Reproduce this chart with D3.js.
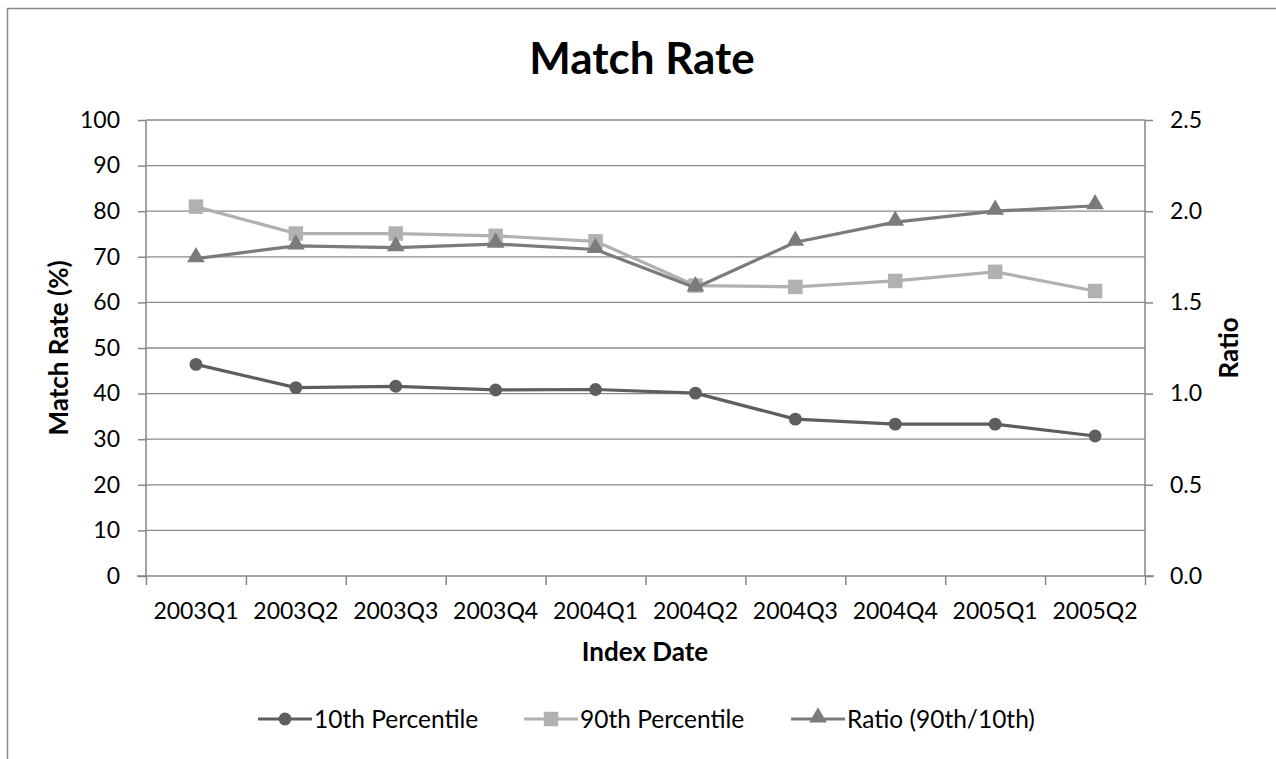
<!DOCTYPE html>
<html>
<head>
<meta charset="utf-8">
<script src="https://cdn.jsdelivr.net/npm/d3@7"></script>
<style>
  html, body { margin: 0; padding: 0; background: #fff; }
  svg { display: block; font-family: Lato, "Open Sans", sans-serif; }
</style>
</head>
<body>
<svg id="chart" width="1276" height="759"></svg>
<script>
// Quarterly index dates
const categories = ["2003Q1","2003Q2","2003Q3","2003Q4","2004Q1","2004Q2","2004Q3","2004Q4","2005Q1","2005Q2"];
// Match rate (%) at the 10th and 90th percentiles
const p10 = [46.4, 41.3, 41.6, 40.8, 40.9, 40.1, 34.4, 33.3, 33.3, 30.7];
const p90 = [81.0, 75.1, 75.1, 74.6, 73.4, 63.7, 63.4, 64.7, 66.7, 62.5];
// Ratio of 90th to 10th percentile (right axis)
const ratio = [1.74, 1.81, 1.80, 1.82, 1.79, 1.58, 1.83, 1.94, 2.00, 2.03];
// Axis tick values
const leftTicks = [0, 10, 20, 30, 40, 50, 60, 70, 80, 90, 100];
const rightTicks = [0, 0.5, 1.0, 1.5, 2.0, 2.5];

const svg = d3.select("#chart");
const plot = { left: 146, right: 1145, top: 120, bottom: 576 };

const axisColor = "#868686";
const gridColor = "#8a8a8a";
const col10 = "#5e5e5e";
const col90 = "#b1b1b1";
const colRatio = "#7b7b7b";

// Outer chart frame (extends past the window on the right and bottom)
svg.append("rect")
  .attr("x", 7.5).attr("y", 8.5).attr("width", 1400).attr("height", 900)
  .attr("fill", "#fff").attr("stroke", "#878787").attr("stroke-width", 1.5);

const x = d3.scaleBand().domain(categories).range([plot.left, plot.right]);
const xEdge = d3.scaleLinear().domain([0, categories.length]).range([plot.left, plot.right]);
const yL = d3.scaleLinear().domain([0, 100]).range([plot.bottom, plot.top]);
const yR = d3.scaleLinear().domain([0, 2.5]).range([plot.bottom, plot.top]);
const cx = d => x(d) + x.bandwidth() / 2;

// Horizontal gridlines
svg.append("g").selectAll("line").data(leftTicks.filter(t => t > 0)).join("line")
  .attr("x1", plot.left).attr("x2", plot.right)
  .attr("y1", d => yL(d)).attr("y2", d => yL(d))
  .attr("stroke", gridColor).attr("stroke-width", 1.3);

// Left axis
const gL = svg.append("g").attr("transform", `translate(${plot.left},0)`)
  .call(d3.axisLeft(yL).tickValues(leftTicks).tickSize(8).tickPadding(18).tickFormat(d3.format("d")));
// Right axis
const gR = svg.append("g").attr("transform", `translate(${plot.right},0)`)
  .call(d3.axisRight(yR).tickValues(rightTicks).tickSize(8).tickPadding(17).tickFormat(d3.format(".1f")));
// Bottom axis: tick marks at category boundaries
const gB = svg.append("g").attr("transform", `translate(0,${plot.bottom})`)
  .call(d3.axisBottom(xEdge).tickValues(d3.range(categories.length + 1)).tickSize(9).tickFormat(""));
// Bottom axis: category labels
const gBL = svg.append("g").attr("transform", `translate(0,${plot.bottom})`)
  .call(d3.axisBottom(x).tickSize(0).tickPadding(27));
gBL.select(".domain").remove();

[gL, gR, gB].forEach(g => {
  g.select(".domain").attr("stroke", axisColor).attr("stroke-width", 1.5);
  g.selectAll(".tick line").attr("stroke", axisColor).attr("stroke-width", 1.5);
});
[gL, gR, gBL].forEach(g => {
  g.selectAll(".tick text").attr("font-size", 23).attr("fill", "#000")
    .attr("font-family", "Lato, 'Open Sans', sans-serif");
});
gL.select(".domain").attr("d", `M0,${plot.top}V${plot.bottom}`);
gR.select(".domain").attr("d", `M0,${plot.top}V${plot.bottom}`);
gB.select(".domain").attr("d", `M${plot.left - 9},0H${plot.right + 9}`);

// Titles
svg.append("text").attr("x", 642).attr("y", 74).attr("text-anchor", "middle")
  .attr("font-size", 44).attr("font-weight", "bold").text("Match Rate");
svg.append("text").attr("x", 645).attr("y", 661).attr("text-anchor", "middle")
  .attr("font-size", 26).attr("font-weight", "bold").text("Index Date");
svg.append("text").attr("transform", `translate(68,${(plot.top + plot.bottom) / 2}) rotate(-90)`)
  .attr("text-anchor", "middle").attr("font-size", 26).attr("font-weight", "bold").text("Match Rate (%)");
svg.append("text").attr("transform", `translate(1238,${(plot.top + plot.bottom) / 2}) rotate(-90)`)
  .attr("text-anchor", "middle").attr("font-size", 26).attr("font-weight", "bold").text("Ratio");

// Marker shapes
const sym = {
  circle: d3.symbol().type(d3.symbolCircle).size(130),
  square: d3.symbol().type(d3.symbolSquare).size(210),
  triangle: d3.symbol().type(d3.symbolTriangle).size(135)
};

const series = [
  { name: "10th Percentile", values: p10, y: yL, color: col10, marker: "circle", dy: 0 },
  { name: "90th Percentile", values: p90, y: yL, color: col90, marker: "square", dy: 0 },
  { name: "Ratio (90th/10th)", values: ratio, y: yR, color: colRatio, marker: "triangle", dy: -1.5 }
];

series.forEach(s => {
  const pts = categories.map((c, i) => [cx(c), s.y(s.values[i])]);
  svg.append("path").datum(pts)
    .attr("d", d3.line())
    .attr("fill", "none").attr("stroke", s.color).attr("stroke-width", 3.2)
    .attr("stroke-linejoin", "round");
  svg.append("g").selectAll("path").data(pts).join("path")
    .attr("transform", d => `translate(${d[0]},${d[1] + s.dy})`)
    .attr("d", sym[s.marker]).attr("fill", s.color);
});

// Legend
const legendX = [258, 524, 791];
const legendY = 719;
series.forEach((s, i) => {
  const g = svg.append("g").attr("transform", `translate(${legendX[i]},${legendY})`);
  g.append("line").attr("x1", 0).attr("x2", 54).attr("y1", 0).attr("y2", 0)
    .attr("stroke", s.color).attr("stroke-width", 3.2);
  g.append("path").attr("transform", `translate(27,${s.dy})`)
    .attr("d", sym[s.marker]).attr("fill", s.color);
  g.append("text").attr("x", 56).attr("y", 9).attr("font-size", 24.5).text(s.name);
});
</script>
</body>
</html>
